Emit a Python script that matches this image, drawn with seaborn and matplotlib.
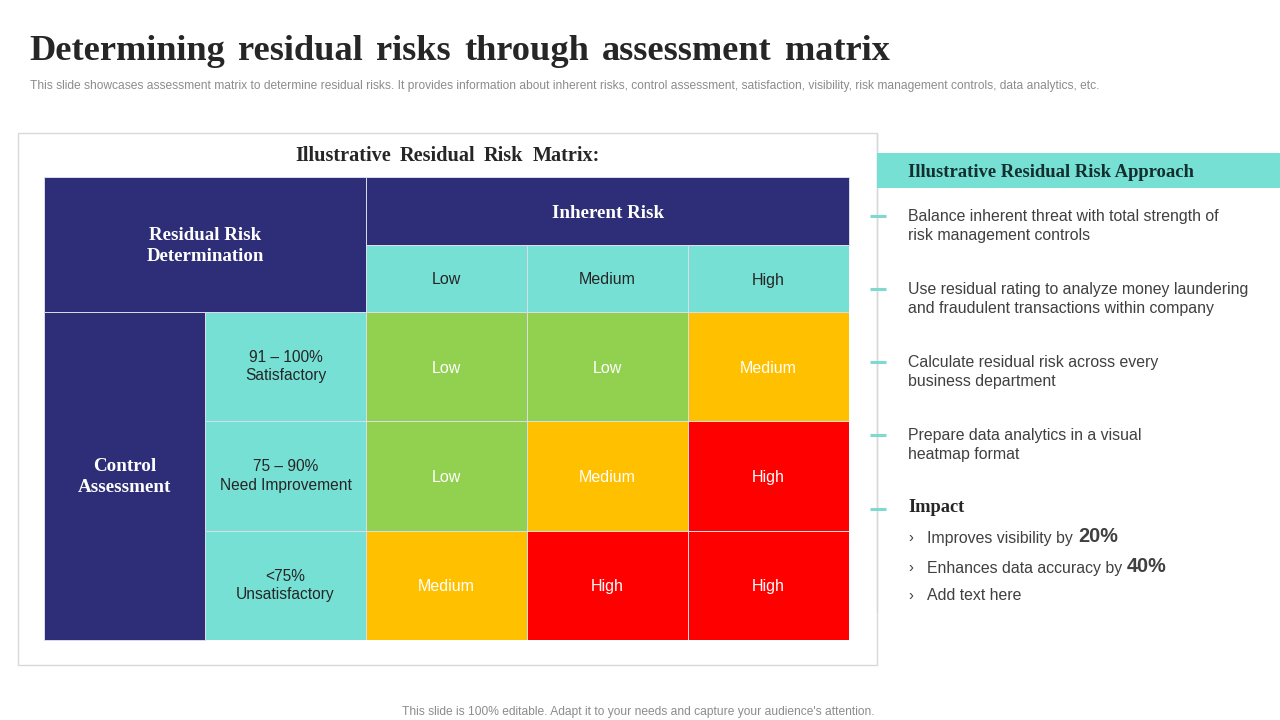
import numpy as np
import matplotlib.pyplot as plt
from matplotlib.colors import ListedColormap
from matplotlib.patches import Rectangle
import seaborn as sns

# matrix values: 0 low, 1 medium, 2 high
inherent_levels = ['Low', 'Medium', 'High']
control_levels = ['91 – 100%\nSatisfactory', '75 – 90%\nNeed Improvement', '<75%\nUnsatisfactory']
risk_codes = [[0, 0, 1],
              [0, 1, 2],
              [1, 2, 2]]
risk_names = ['Low', 'Medium', 'High']
risk_colors = ['#92D050', '#FFC000', '#FF0000']

approach_items = ['Balance inherent threat with total strength of\nrisk management controls',
                  'Use residual rating to analyze money laundering\nand fraudulent transactions within company',
                  'Calculate residual risk across every\nbusiness department',
                  'Prepare data analytics in a visual\nheatmap format']
approach_y = [216, 289, 362, 435]
impact_items = ['Improves visibility by', 'Enhances data accuracy by', 'Add text here']
impact_values = ['20%', '40%', '']
impact_y = [538, 568, 596]
impact_value_x = [1078, 1127, 0]

NAVY = '#2E2E78'
TEAL = '#76E0D5'
GRID = '#DADDE8'
SERIF = 'Liberation Serif'
SANS = 'Liberation Sans'

sns.set_theme(style='white')
plt.rcParams['font.family'] = [SANS, 'DejaVu Sans']
W, H = 1280, 720
fig = plt.figure(figsize=(12.8, 7.2), dpi=100)
renderer = fig.canvas.get_renderer()


def px_axes(x0, y0, x1, y1, **kw):
    # axes from pixel box, y counted from the top
    return fig.add_axes([x0 / W, 1 - y1 / H, (x1 - x0) / W, (y1 - y0) / H], **kw)


def spaced_words(ax, x, y, line, gap, **kw):
    # powerpoint justified look, wider gaps than a normal space
    for word in line.split(' '):
        t = ax.text(x, y, word, va='baseline', **kw)
        x += t.get_window_extent(renderer).width + gap


# background layer in pixel coordinates
bg = px_axes(0, 0, W, H)
bg.set_xlim(0, W)
bg.set_ylim(H, 0)
bg.axis('off')

spaced_words(bg, 29.5, 60, 'Determining residual risks through assessment matrix', 13.2, family=SERIF,
             weight='bold', fontsize=26.2, color='#262626')
bg.text(30, 86.5, 'This slide showcases assessment matrix to determine residual risks. It provides information about '
        'inherent risks, control assessment, satisfaction, visibility, risk management controls, data analytics, etc.',
        fontsize=8.62, color='#8C8C8C', va='center')
bg.text(638.5, 712, "This slide is 100% editable. Adapt it to your needs and capture your audience's attention.",
        fontsize=8.62, color='#8C8C8C', va='center', ha='center')

# matrix frame
bg.add_patch(Rectangle((18, 133), 859, 532, fc='white', ec='#D9D9D9', lw=1))
spaced_words(bg, 295, 161, 'Illustrative Residual Risk Matrix:', 8.8, family=SERIF, weight='bold', fontsize=14.6,
             color='#262626')

# navy blocks
for (x, y, w, h) in [(44, 177, 322, 135), (366, 177, 483, 68), (44, 312, 161, 328)]:
    bg.add_patch(Rectangle((x, y), w, h, fc=NAVY, ec=GRID, lw=0.7))
bg.text(205, 246, 'Residual Risk\nDetermination', family=SERIF, weight='bold', fontsize=13.6, color='white',
        ha='center', va='center', linespacing=1.35)
bg.text(608, 214, 'Inherent Risk', family=SERIF, weight='bold', fontsize=13.7, color='white', ha='center', va='center')
bg.text(125, 477, 'Control\nAssessment', family=SERIF, weight='bold', fontsize=13.7, color='white', ha='center',
        va='center', linespacing=1.35)

# teal header row and column
ax_top = px_axes(366, 245, 849, 312)
sns.heatmap([[0, 0, 0]], ax=ax_top, cmap=ListedColormap([TEAL]), cbar=False, annot=[inherent_levels], fmt='',
            linewidths=0.4, linecolor=GRID, xticklabels=False, yticklabels=False,
            annot_kws={'color': '#262626', 'fontsize': 11.5, 'va': 'center_baseline'})

ax_left = px_axes(205, 312, 366, 640)
sns.heatmap([[0], [0], [0]], ax=ax_left, cmap=ListedColormap([TEAL]), cbar=False,
            annot=[[c] for c in control_levels], fmt='', linewidths=0.4, linecolor=GRID,
            xticklabels=False, yticklabels=False,
            annot_kws={'color': '#262626', 'fontsize': 11.2, 'linespacing': 1.3})

# the risk matrix itself
codes = np.array(risk_codes)
labels = np.array(risk_names)[codes]
ax_m = px_axes(366, 312, 849, 640)
sns.heatmap(codes, ax=ax_m, cmap=ListedColormap(risk_colors), vmin=-0.5, vmax=2.5, cbar=False, annot=labels, fmt='',
            linewidths=0.4, linecolor=GRID, xticklabels=False, yticklabels=False,
            annot_kws={'color': 'white', 'fontsize': 11.5, 'va': 'center_baseline'})

# right panel
bg.plot([877, 877], [133, 612], color='#D5D8DC', lw=1)
bg.add_patch(Rectangle((877, 153), 403, 35, fc=TEAL, ec='none', zorder=2))
bg.text(908, 172.5, 'Illustrative Residual Risk Approach', family=SERIF, weight='bold', fontsize=13.4,
        color='#14302E', va='center', zorder=3)

for y, item in zip(approach_y + [509], approach_items + [None]):
    bg.plot([869.5, 886], [y - 0.5, y - 0.5], color='#7FD9D0', lw=2.2, solid_capstyle='butt', zorder=3)
    if item:
        bg.text(908, y + 10, item, fontsize=11.45, color='#404040', va='center', linespacing=1.33)

bg.text(908, 507, 'Impact', family=SERIF, weight='bold', fontsize=13.2, color='#262626', va='center')
for y, item, val, vx in zip(impact_y, impact_items, impact_values, impact_value_x):
    bg.text(908, y, '›', fontsize=10.5, color='#404040', va='center')
    bg.text(927, y, item, fontsize=11.45, color='#404040', va='center')
    if val:
        bg.text(vx, y - 1, val, fontsize=14.3, weight='bold', color='#404040', va='center')

fig.savefig('out.png', dpi=100, facecolor='white')
